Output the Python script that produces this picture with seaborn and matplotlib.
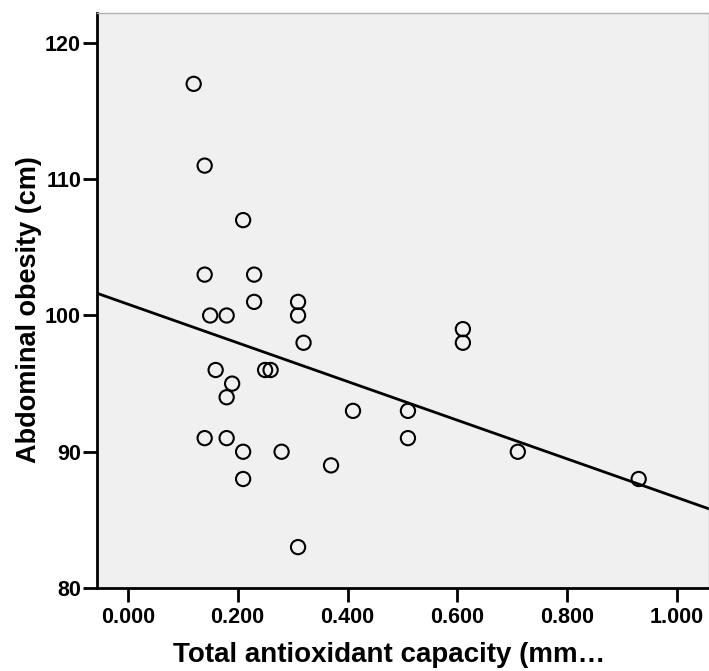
import pandas as pd
import matplotlib
matplotlib.use('Agg')
import matplotlib.pyplot as plt
import seaborn as sns

# Data
tac = [0.12, 0.14, 0.21, 0.14, 0.23, 0.23, 0.15, 0.18, 0.31, 0.31,
       0.32, 0.16, 0.25, 0.26, 0.19, 0.18, 0.14, 0.18, 0.21, 0.28,
       0.21, 0.31, 0.41, 0.37, 0.61, 0.61, 0.51, 0.51, 0.71, 0.93]
waist = [117, 111, 107, 103, 103, 101, 100, 100, 101, 100,
         98, 96, 96, 96, 95, 94, 91, 91, 90, 90,
         88, 83, 93, 89, 99, 98, 93, 91, 90, 88]
x_ticks = [0.0, 0.2, 0.4, 0.6, 0.8, 1.0]
x_tick_labels = ['0.000', '0.200', '0.400', '0.600', '0.800', '1.000']
y_ticks = [80, 90, 100, 110, 120]

df = pd.DataFrame({'tac': tac, 'waist': waist})

sns.set_theme(style="white")
plt.rcParams['font.family'] = ['Liberation Sans', 'DejaVu Sans']
plt.rcParams['font.weight'] = 'bold'

fig = plt.figure(figsize=(7.09, 6.71), dpi=100)
ax = fig.add_axes([0.1368, 0.1237, 0.8632, 0.8569])
ax.set_facecolor('#f0f0f0')

# limits first so the fit line spans the whole axis
ax.set_xlim(-0.056, 1.058)
ax.set_ylim(80, 122.2)

sns.regplot(data=df, x='tac', y='waist', ax=ax, ci=None, truncate=False,
            scatter_kws={'s': 105, 'facecolors': 'none', 'edgecolors': 'black',
                         'linewidths': 1.5, 'alpha': 1, 'zorder': 3},
            line_kws={'color': 'black', 'linewidth': 2, 'zorder': 2})

ax.set_xlim(-0.056, 1.058)
ax.set_ylim(80, 122.2)
ax.set_xticks(x_ticks)
ax.set_xticklabels(x_tick_labels)
ax.set_yticks(y_ticks)

ax.tick_params(axis='both', direction='out', length=10, width=2, color='black',
               labelcolor='black', labelsize=15.5, bottom=True, left=True)
ax.tick_params(axis='x', pad=4)
ax.tick_params(axis='y', pad=1.5)
for lab in ax.get_xticklabels() + ax.get_yticklabels():
    lab.set_fontweight('bold')

for side in ['left', 'bottom']:
    ax.spines[side].set_color('black')
    ax.spines[side].set_linewidth(2)
for side in ['top', 'right']:
    ax.spines[side].set_color('#b0b0b0')
    ax.spines[side].set_linewidth(1)

ax.set_xlabel('Total antioxidant capacity (mm…', fontsize=20, fontweight='bold', color='black')
ax.set_ylabel('Abdominal obesity (cm)', fontsize=19.5, fontweight='bold', color='black')
ax.xaxis.set_label_coords(0.477, -0.094)
ax.yaxis.set_label_coords(-0.09, 0.485)

fig.savefig('out.png', dpi=100, facecolor='white')
